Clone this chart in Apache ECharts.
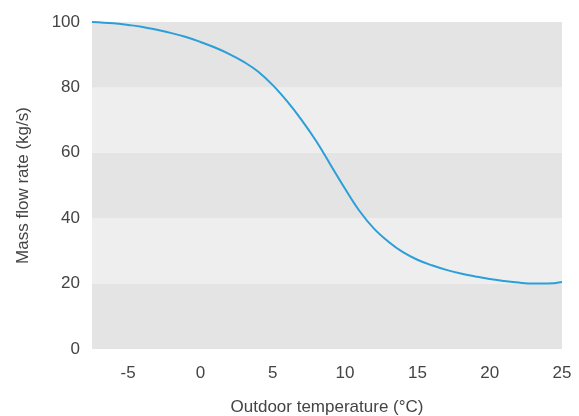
<!DOCTYPE html>
<html>
<head>
<meta charset="utf-8">
<script src="https://cdn.jsdelivr.net/npm/echarts@6/dist/echarts.min.js"></script>
<style>
html,body{margin:0;padding:0;background:#fff;}
#chart{width:579px;height:416px;}
</style>
</head>
<body>
<div id="chart"></div>
<script>
const temperature = [-7.5, -6, -5, -4, -3, -2, -1, 0, 1, 2, 3, 4, 5, 6, 7, 8, 9, 10, 11, 12, 13, 14, 15, 16, 17, 18, 19, 20, 21, 22, 23, 24, 25];
const massFlow = [100, 99.6, 99.1, 98.5, 97.6, 96.6, 95.4, 93.9, 92.2, 90.2, 87.8, 84.8, 80.7, 75.7, 70.0, 63.6, 56.3, 49.0, 42.2, 36.8, 32.8, 29.6, 27.3, 25.6, 24.2, 23.1, 22.2, 21.4, 20.8, 20.3, 20.0, 20.0, 20.5];
const xName = 'Outdoor temperature (°C)';
const yName = 'Mass flow rate (kg/s)';

const chart = echarts.init(document.getElementById('chart'));
const font = '"Liberation Sans", Arial, sans-serif';
chart.setOption({
  animation: false,
  grid: {left: 92, right: 17, top: 22, bottom: 67, containLabel: false, outerBoundsMode: 'none'},
  xAxis: {
    type: 'value', min: -7.5, max: 25, interval: 2.5,
    name: xName, nameLocation: 'middle', nameGap: 50,
    nameTextStyle: {fontFamily: font, fontSize: 17, color: '#444'},
    axisLine: {show: false}, axisTick: {show: false}, splitLine: {show: false},
    axisLabel: {
      fontFamily: font, fontSize: 17, color: '#444', margin: 16,
      formatter: v => (Math.abs(v % 5) < 1e-9 ? String(v) : '')
    }
  },
  yAxis: {
    type: 'value', min: 0, max: 100, interval: 20,
    name: yName, nameLocation: 'middle', nameGap: 60,
    nameTextStyle: {fontFamily: font, fontSize: 17, color: '#444'},
    axisLine: {show: false}, axisTick: {show: false}, splitLine: {show: false},
    splitArea: {show: true, areaStyle: {color: ['#e4e4e4', '#eeeeee']}},
    axisLabel: {fontFamily: font, fontSize: 17, color: '#444', margin: 12, padding: [5, 0, 0, 0]}
  },
  series: [{
    type: 'line', smooth: 0.4, showSymbol: false,
    data: temperature.map((t, i) => [t, massFlow[i]]),
    lineStyle: {color: '#2a9fd8', width: 2}
  }]
});
</script>
</body>
</html>
